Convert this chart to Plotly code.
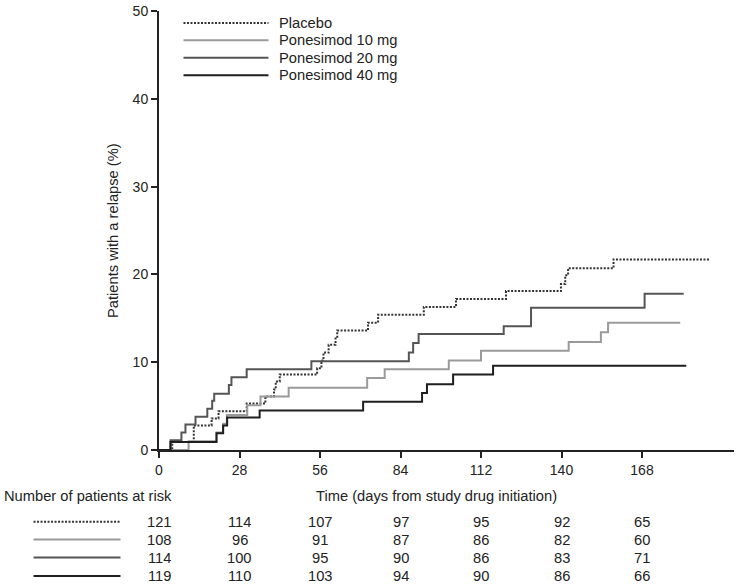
import plotly.graph_objects as go

# ---- data ----
series_names = ["Placebo", "Ponesimod 10 mg", "Ponesimod 20 mg", "Ponesimod 40 mg"]

placebo_days = [0, 4.6, 12.1, 18.3, 20.7, 30.5, 37, 40, 40.6, 42, 55, 56.5, 57.2, 59, 61.4, 62, 72.7, 76.2, 92.1, 103.3, 120.7, 139.8, 141.3, 142.3, 158.1, 191.8]
placebo_pct = [0, 0.9, 2.8, 3.6, 4.4, 5.3, 6.1, 6.9, 7.8, 8.6, 9.3, 10.2, 11.1, 12.0, 12.9, 13.6, 14.5, 15.4, 16.3, 17.2, 18.1, 18.9, 19.9, 20.7, 21.7, 21.7]

p10_days = [0, 10.3, 20.0, 22.3, 23.6, 30.7, 35.3, 45.1, 72.4, 78.5, 100.8, 112.0, 142.5, 153.7, 156.2, 181.3]
p10_pct = [0, 1.0, 2.0, 3.0, 4.0, 5.1, 6.1, 7.1, 8.2, 9.2, 10.2, 11.3, 12.3, 13.4, 14.5, 14.5]

p20_days = [0, 4.0, 7.8, 9.2, 12.7, 16.8, 18.5, 19.2, 24.3, 25.2, 30.5, 53.0, 86.9, 88.4, 90.3, 119.9, 129.4, 168.9, 182.5]
p20_pct = [0, 1.1, 2.0, 2.9, 3.8, 4.7, 5.6, 6.4, 7.4, 8.3, 9.2, 10.1, 11.1, 12.2, 13.2, 14.1, 16.2, 17.8, 17.8]

p40_days = [0, 4.0, 20.0, 22.3, 23.7, 35.0, 71.0, 91.5, 93.2, 102.3, 116.2, 183.4]
p40_pct = [0, 0.9, 1.9, 2.8, 3.7, 4.5, 5.5, 6.5, 7.5, 8.6, 9.6, 9.6]

x_ticks = [0, 28, 56, 84, 112, 140, 168]
y_ticks = [0, 10, 20, 30, 40, 50]

risk_placebo = [121, 114, 107, 97, 95, 92, 65]
risk_p10 = [108, 96, 91, 87, 86, 82, 60]
risk_p20 = [114, 100, 95, 90, 86, 83, 71]
risk_p40 = [119, 110, 103, 94, 90, 86, 66]

# ---- styles ----
styles = [
    dict(color="#333333", width=2, dash="2px,1.5px"),
    dict(color="#9a9a9a", width=2, dash="solid"),
    dict(color="#555555", width=2, dash="solid"),
    dict(color="#1e1e1e", width=2, dash="solid"),
]
FONT = "Liberation Sans, Arial, sans-serif"
TXT = "#222222"
FS = 14.7

W, H = 737, 584
L, R, T, B = 158.5, 3.3, 9, 134
PW, PH = W - L - R, H - T - B


def px_to_paper_x(px):
    return (px - L) / PW


def px_to_paper_y(py):
    return (H - B - py) / PH


fig = go.Figure()
all_series = [(placebo_days, placebo_pct), (p10_days, p10_pct), (p20_days, p20_pct), (p40_days, p40_pct)]
for (d, p), name, st in zip(all_series, series_names, styles):
    fig.add_trace(go.Scatter(x=d, y=p, mode="lines", name=name, line=dict(shape="hv", **st),
                             showlegend=False, hoverinfo="x+y+name"))

shapes = []
annotations = []

# legend (drawn in paper space)
legend_rows_py = [21, 38.5, 56, 73.5]
for name, st, py in zip(series_names, styles, legend_rows_py):
    yy = px_to_paper_y(py)
    shapes.append(dict(type="line", xref="paper", yref="paper", x0=px_to_paper_x(183), x1=px_to_paper_x(268),
                       y0=yy, y1=yy, line=st))
    annotations.append(dict(xref="paper", yref="paper", x=px_to_paper_x(277), y=yy, text=name, showarrow=False,
                            xanchor="left", yanchor="middle", font=dict(family=FONT, size=FS, color=TXT)))

# risk table
risk_rows = [risk_placebo, risk_p10, risk_p20, risk_p40]
risk_rows_py = [522, 540, 558, 576.5]
for vals, st, py in zip(risk_rows, styles, risk_rows_py):
    yy = px_to_paper_y(py)
    shapes.append(dict(type="line", xref="paper", yref="paper", x0=px_to_paper_x(33), x1=px_to_paper_x(120),
                       y0=yy, y1=yy, line=st))
    for xv, v in zip(x_ticks, vals):
        annotations.append(dict(xref="x", yref="paper", x=xv, y=yy, text=str(v), showarrow=False,
                                xanchor="center", yanchor="middle", font=dict(family=FONT, size=FS, color=TXT)))

annotations.append(dict(xref="paper", yref="paper", x=px_to_paper_x(1), y=px_to_paper_y(496),
                        text="Number of patients at risk", showarrow=False, xanchor="left", yanchor="middle",
                        font=dict(family=FONT, size=FS, color=TXT)))
annotations.append(dict(xref="paper", yref="paper", x=px_to_paper_x(436), y=px_to_paper_y(496),
                        text="Time (days from study drug initiation)", showarrow=False, xanchor="center",
                        yanchor="middle", font=dict(family=FONT, size=FS, color=TXT)))
annotations.append(dict(xref="paper", yref="paper", x=px_to_paper_x(112), y=0.5,
                        text="Patients with a relapse (%)", showarrow=False, textangle=-90,
                        xanchor="center", yanchor="middle", font=dict(family=FONT, size=FS, color=TXT)))

fig.update_layout(
    width=W, height=H,
    margin=dict(l=L, r=R, t=T, b=B, pad=0),
    paper_bgcolor="white", plot_bgcolor="white",
    font=dict(family=FONT, size=14, color=TXT),
    shapes=shapes, annotations=annotations,
    xaxis=dict(range=[0, 200], tickvals=x_ticks, ticktext=[str(t) for t in x_ticks], showgrid=False,
               zeroline=False, showline=True, linecolor="#222222", linewidth=2, ticks="outside",
               ticklen=6, tickwidth=2, tickcolor="#222222", tickfont=dict(family=FONT, size=14, color=TXT)),
    yaxis=dict(range=[0, 50], tickvals=y_ticks, showgrid=False, zeroline=False, showline=True,
               linecolor="#222222", linewidth=2, ticks="outside", ticklen=6, tickwidth=2,
               tickcolor="#222222", tickfont=dict(family=FONT, size=14, color=TXT)),
)

fig.write_html("out.html", config={"displayModeBar": False},
               post_script="document.body.style.margin='0';document.body.style.overflow='hidden';")
